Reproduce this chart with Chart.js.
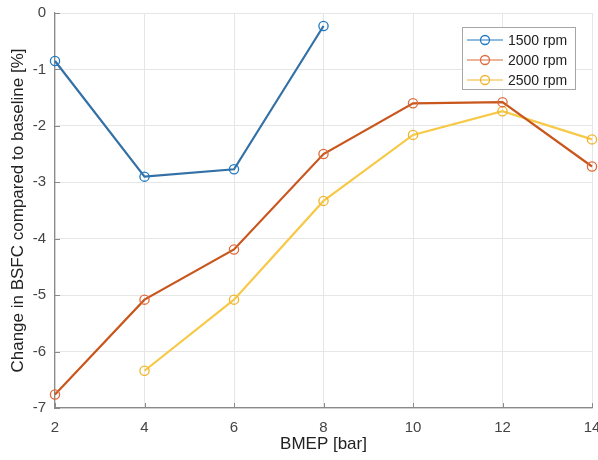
<!DOCTYPE html>
<html>
<head>
<meta charset="utf-8">
<script src="https://cdn.jsdelivr.net/npm/chart.js@4"></script>
<style>
  html, body { margin: 0; padding: 0; background: #fff; }
  canvas { display: block; }
</style>
</head>
<body>
<canvas id="grafico" width="598" height="460"></canvas>
<script>
// BMEP points (bar) and BSFC change (%) for each engine speed
const bmep1500 = [2, 4, 6, 8];
const bsfc1500 = [-0.85, -2.90, -2.77, -0.23];
const bmep2000 = [2, 4, 6, 8, 10, 12, 14];
const bsfc2000 = [-6.76, -5.08, -4.19, -2.50, -1.60, -1.58, -2.72];
const bmep2500 = [4, 6, 8, 10, 12, 14];
const bsfc2500 = [-6.34, -5.08, -3.33, -2.16, -1.74, -2.24];
const legendas = ['1500 rpm', '2000 rpm', '2500 rpm'];
const xTicks = [2, 4, 6, 8, 10, 12, 14];

const fonte = '"Liberation Sans", Arial, sans-serif';
const cores = [
  { linha: '#3270a6', ponto: '#1f78c1' },
  { linha: '#c9561c', ponto: '#dd6a3a' },
  { linha: '#f7c948', ponto: '#efb52a' }
];

function pontos(xs, ys) {
  return xs.map((x, i) => ({ x: x, y: ys[i] }));
}

function serie(label, dados, cor) {
  return {
    label: label,
    data: dados,
    borderColor: cor.linha,
    borderWidth: 2.2,
    pointStyle: 'circle',
    pointRadius: 4.6,
    pointBorderWidth: 1.3,
    pointBorderColor: cor.ponto,
    pointBackgroundColor: 'rgba(0,0,0,0)',
    tension: 0,
    clip: false
  };
}

// ticks para dentro, estilo matlab
const ticksInternos = {
  id: 'ticksInternos',
  afterDatasetsDraw(chart) {
    const { ctx, chartArea, scales } = chart;
    ctx.save();
    ctx.strokeStyle = '#8a8a8a';
    ctx.lineWidth = 1;
    scales.x.ticks.forEach(t => {
      const px = Math.round(scales.x.getPixelForValue(t.value)) + 0.5;
      ctx.beginPath();
      ctx.moveTo(px, chartArea.bottom);
      ctx.lineTo(px, chartArea.bottom - 5);
      ctx.stroke();
    });
    scales.y.ticks.forEach(t => {
      const py = Math.round(scales.y.getPixelForValue(t.value)) + 0.5;
      ctx.beginPath();
      ctx.moveTo(chartArea.left, py);
      ctx.lineTo(chartArea.left + 5, py);
      ctx.stroke();
    });
    ctx.restore();
  }
};

// legenda em caixa no canto superior direito
const legendaCaixa = {
  id: 'legendaCaixa',
  afterDraw(chart) {
    const ctx = chart.ctx;
    const x0 = 462, y0 = 27, w = 113, h = 62;
    ctx.save();
    ctx.fillStyle = '#fff';
    ctx.fillRect(x0, y0, w, h);
    ctx.strokeStyle = '#a6a6a6';
    ctx.lineWidth = 1;
    ctx.strokeRect(x0 + 0.5, y0 + 0.5, w, h);
    ctx.font = '14px ' + fonte;
    ctx.textBaseline = 'middle';
    chart.data.datasets.forEach((ds, i) => {
      const y = 40 + i * 20;
      ctx.strokeStyle = ds.pointBorderColor;
      ctx.lineWidth = 1;
      ctx.beginPath();
      ctx.moveTo(467, y);
      ctx.lineTo(503, y);
      ctx.stroke();
      ctx.lineWidth = 1.3;
      ctx.beginPath();
      ctx.arc(485, y, 4.5, 0, Math.PI * 2);
      ctx.stroke();
      ctx.fillStyle = '#222';
      ctx.fillText(ds.label, 508, y + 1);
    });
    ctx.restore();
  }
};

new Chart(document.getElementById('grafico').getContext('2d'), {
  type: 'line',
  data: {
    datasets: [
      serie(legendas[0], pontos(bmep1500, bsfc1500), cores[0]),
      serie(legendas[1], pontos(bmep2000, bsfc2000), cores[1]),
      serie(legendas[2], pontos(bmep2500, bsfc2500), cores[2])
    ]
  },
  options: {
    responsive: false,
    animation: false,
    layout: { padding: { top: 13, right: 6, left: 0, bottom: 0 } },
    plugins: {
      legend: { display: false },
      tooltip: { enabled: false }
    },
    scales: {
      x: {
        type: 'linear',
        min: 2,
        max: 14,
        afterBuildTicks: s => { s.ticks = xTicks.map(v => ({ value: v })); },
        afterFit: s => {
          s.height = 52;
          s.paddingLeft = 0;
          s.paddingRight = 0;
        },
        grid: { color: '#e6e6e6', drawTicks: false },
        border: { color: '#8a8a8a', width: 1.2 },
        ticks: { color: '#444', padding: 11, font: { family: fonte, size: 15 } },
        title: {
          display: true,
          text: 'BMEP [bar]',
          color: '#222',
          font: { family: fonte, size: 17 },
          padding: { top: 0, bottom: 5 }
        }
      },
      y: {
        min: -7,
        max: 0,
        ticks: { stepSize: 1, color: '#444', padding: 9, font: { family: fonte, size: 15 } },
        afterFit: s => {
          s.width = 55;
          s.paddingTop = 0;
          s.paddingBottom = 0;
        },
        grid: { color: '#e6e6e6', drawTicks: false },
        border: { color: '#8a8a8a', width: 1.2 },
        title: {
          display: true,
          text: 'Change in BSFC compared to baseline [%]',
          color: '#222',
          font: { family: fonte, size: 17 },
          padding: { top: 8, bottom: 0 }
        }
      }
    }
  },
  plugins: [ticksInternos, legendaCaixa]
});
</script>
</body>
</html>
